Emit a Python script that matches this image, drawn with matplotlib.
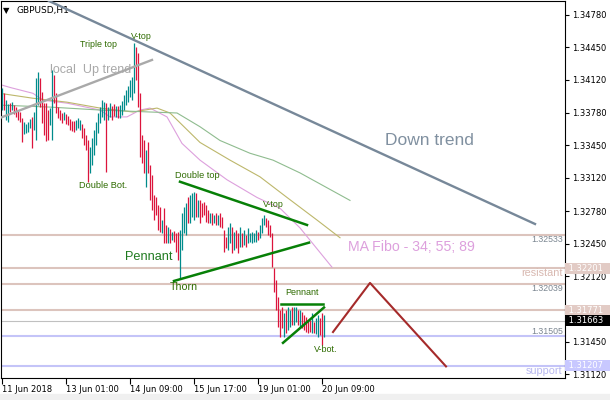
import matplotlib.pyplot as plt
import matplotlib.patches as mpatches
import numpy as np

### DATA (GBPUSD H1, 11 Jun 17:00 - 20 Jun 10:00) ###

high = [
    1.3403, 1.3398, 1.3391, 1.3387, 1.3388, 1.3389, 1.3386, 1.3384, 1.3381, 1.3379,
    1.3373, 1.3369, 1.3367, 1.3369, 1.3372, 1.3374, 1.3379, 1.3414, 1.3420, 1.3414,
    1.3399, 1.3388, 1.3388, 1.3381, 1.3383, 1.3422, 1.3417, 1.3398, 1.3384, 1.3381,
    1.3378, 1.3379, 1.3377, 1.3375, 1.3372, 1.3370, 1.3370, 1.3371, 1.3373, 1.3371,
    1.3367, 1.3363, 1.3356, 1.3350, 1.3343, 1.3353, 1.3361, 1.3369, 1.3378, 1.3384,
    1.3391, 1.3389, 1.3388, 1.3384, 1.3388, 1.3385, 1.3387, 1.3385, 1.3385, 1.3386,
    1.3390, 1.3396, 1.3401, 1.3405, 1.3412, 1.3415, 1.3449, 1.3445, 1.3439, 1.3398,
    1.3356, 1.3350, 1.3340, 1.3348, 1.3325, 1.3315, 1.3294, 1.3292, 1.3284, 1.3282,
    1.3269, 1.3281, 1.3264, 1.3262, 1.3260, 1.3257, 1.3258, 1.3256, 1.3257, 1.3259,
    1.3276, 1.3282, 1.3286, 1.3292, 1.3294, 1.3297, 1.3298, 1.3297, 1.3289, 1.3289,
    1.3286, 1.3287, 1.3284, 1.3279, 1.3276, 1.3276, 1.3274, 1.3276, 1.3274, 1.3276,
    1.3272, 1.3259, 1.3252, 1.3262, 1.3266, 1.3262, 1.3257, 1.3259, 1.3256, 1.3262,
    1.3256, 1.3259, 1.3254, 1.3261, 1.3256, 1.3257, 1.3256, 1.3259, 1.3257, 1.3264,
    1.3271, 1.3274, 1.3271, 1.3269, 1.3264, 1.3256, 1.3220, 1.3208, 1.3191, 1.3177,
    1.3180, 1.3174, 1.3177, 1.3180, 1.3177, 1.3180, 1.3180, 1.3180, 1.3177, 1.3177,
    1.3175, 1.3172, 1.3170, 1.3167, 1.3167, 1.3174, 1.3165, 1.3169, 1.3172, 1.3169,
    1.3174, 1.3172,
]
low = [
    1.3381, 1.3381, 1.3371, 1.3369, 1.3379, 1.3381, 1.3377, 1.3374, 1.3371, 1.3369,
    1.3348, 1.3357, 1.3358, 1.3359, 1.3363, 1.3342, 1.3361, 1.3350, 1.3386, 1.3384,
    1.3368, 1.3356, 1.3349, 1.3350, 1.3366, 1.3350, 1.3388, 1.3378, 1.3373, 1.3371,
    1.3368, 1.3371, 1.3367, 1.3366, 1.3361, 1.3360, 1.3359, 1.3361, 1.3363, 1.3361,
    1.3353, 1.3345, 1.3340, 1.3308, 1.3317, 1.3325, 1.3335, 1.3345, 1.3358, 1.3368,
    1.3374, 1.3371, 1.3318, 1.3371, 1.3374, 1.3371, 1.3375, 1.3374, 1.3373, 1.3373,
    1.3376, 1.3381, 1.3386, 1.3389, 1.3394, 1.3391, 1.3398, 1.3412, 1.3384, 1.3333,
    1.3327, 1.3317, 1.3303, 1.3317, 1.3289, 1.3279, 1.3269, 1.3274, 1.3259, 1.3257,
    1.3256, 1.3246, 1.3246, 1.3246, 1.3246, 1.3249, 1.3247, 1.3236, 1.3228, 1.3210,
    1.3239, 1.3256, 1.3254, 1.3266, 1.3266, 1.3272, 1.3269, 1.3272, 1.3272, 1.3266,
    1.3272, 1.3274, 1.3267, 1.3266, 1.3266, 1.3264, 1.3266, 1.3264, 1.3264, 1.3262,
    1.3261, 1.3236, 1.3241, 1.3239, 1.3246, 1.3235, 1.3239, 1.3241, 1.3235, 1.3242,
    1.3242, 1.3244, 1.3242, 1.3246, 1.3247, 1.3246, 1.3247, 1.3247, 1.3249, 1.3251,
    1.3256, 1.3264, 1.3262, 1.3254, 1.3252, 1.3221, 1.3196, 1.3177, 1.3160, 1.3150,
    1.3159, 1.3150, 1.3154, 1.3157, 1.3160, 1.3162, 1.3162, 1.3165, 1.3162, 1.3160,
    1.3159, 1.3157, 1.3155, 1.3154, 1.3155, 1.3154, 1.3154, 1.3153, 1.3150, 1.3152,
    1.3142, 1.3150,
]
# 1 = bull bar, 0 = bear bar
up = [
    1, 0, 1, 1, 0, 1, 0, 0, 0, 0,
    0, 1, 1, 1, 1, 0, 1, 1, 1, 0,
    0, 0, 0, 0, 1, 1, 0, 0, 0, 0,
    0, 1, 0, 0, 0, 0, 0, 1, 1, 1,
    0, 0, 0, 0, 1, 1, 1, 1, 1, 1,
    1, 1, 0, 1, 1, 0, 0, 1, 0, 1,
    1, 1, 1, 1, 1, 1, 1, 0, 0, 0,
    0, 0, 1, 0, 0, 0, 0, 0, 0, 0,
    1, 0, 0, 1, 0, 1, 0, 0, 0, 1,
    1, 1, 1, 0, 1, 1, 1, 0, 1, 0,
    0, 0, 0, 0, 1, 0, 1, 0, 1, 0,
    0, 0, 0, 1, 1, 0, 1, 0, 0, 1,
    0, 1, 0, 1, 1, 1, 1, 1, 0, 1,
    1, 1, 0, 0, 0, 0, 0, 0, 0, 0,
    0, 1, 0, 1, 1, 0, 1, 1, 0, 1,
    0, 0, 0, 0, 0, 1, 0, 1, 1, 0,
    0, 1,
]

time_ticks = [0, 32, 64, 96, 128, 160]
time_labels = ['11 Jun 2018', '13 Jun 01:00', '14 Jun 09:00',
               '15 Jun 17:00', '19 Jun 01:00', '20 Jun 09:00']
price_ticks = [1.34780, 1.34450, 1.34120, 1.33780, 1.33450, 1.33120,
               1.32780, 1.32450, 1.32120, 1.31450, 1.31120]

# MA Fibo 34 / 55 / 89 (shifted forward), sampled along the curves
ma34_x = [-1, 4, 15.5, 20.5, 32.5, 49, 54, 62.5, 69, 74, 82.5, 90, 99, 112.5, 127.5, 139, 149, 165]
ma34_y = [1.3407, 1.3404, 1.3398, 1.3391, 1.3388, 1.3381, 1.3374, 1.3374, 1.3381, 1.3383,
          1.3374, 1.3347, 1.3330, 1.3310, 1.3292, 1.3281, 1.3261, 1.3221]
ma55_x = [-1, 15.5, 32.5, 49, 65.5, 77.5, 84, 92.5, 99, 114, 129, 142.5, 157.5, 169]
ma55_y = [1.3398, 1.3393, 1.3389, 1.3383, 1.3379, 1.3383, 1.3378, 1.3361, 1.3348, 1.3330,
          1.3313, 1.3292, 1.3269, 1.3251]
ma89_x = [-1, 24, 49, 74, 87.5, 99, 109, 124, 135.5, 149, 174]
ma89_y = [1.3386, 1.3384, 1.3381, 1.3379, 1.3378, 1.3364, 1.3350, 1.3337, 1.3330, 1.3317, 1.3289]

# horizontal levels
res_levels = [1.32533, 1.32201, 1.32039, 1.31771]
sup_levels = [1.31505, 1.31207]
bid = 1.31663

# drawn objects
down_trend = ([23.5, 266.5], [1.3492, 1.3265])
local_up = ([-1, 75], [1.3373, 1.3432])
pennant_top = ([89, 152.5], [1.3308, 1.3264])
pennant_bot = ([86, 153.5], [1.3207, 1.3246])
small_top = ([139.5, 160.5], [1.3184, 1.3184])
small_bot = ([140.5, 161], [1.3144, 1.3180])
zigzag = ([165.5, 184, 222], [1.3155, 1.3205, 1.3120])

### PLOT ###
UP_C = '#008b8b'
DN_C = '#dc143c'
ROSY = '#dcc4bd'
BLUE = '#c4c4f8'
ANN = '#2e6b00'
ARIAL = 'Liberation Sans'

fig = plt.figure(figsize=(6.1, 4.0), dpi=100)
fig.patches.append(mpatches.Rectangle((0, 0), 1, 6 / 400, transform=fig.transFigure,
                                      color='#f0f0f0', zorder=0))
ax = fig.add_axes([1 / 610, 22 / 400, 564 / 610, 377 / 400])

idx = np.arange(len(high))
cols = [UP_C if u else DN_C for u in up]
ax.vlines(idx, low, high, colors=cols, lw=0.9, zorder=3)

for lv in res_levels:
    ax.axhline(lv, color=ROSY, lw=1.5, zorder=1)
for lv in sup_levels:
    ax.axhline(lv, color=BLUE, lw=1.5, zorder=1)
ax.axhline(bid, color='#c0c0c0', lw=0.8, zorder=1)

ax.plot(ma34_x, ma34_y, color='#dda0dd', lw=0.8, zorder=2)
ax.plot(ma55_x, ma55_y, color='#bdb76b', lw=0.8, zorder=2)
ax.plot(ma89_x, ma89_y, color='#8fbc8f', lw=0.8, zorder=2)

ax.plot(*down_trend, color='#778899', lw=1.7, zorder=4)
ax.plot(*local_up, color='#a9a9a9', lw=1.7, zorder=4)
for ln in (pennant_top, pennant_bot, small_top, small_bot):
    ax.plot(*ln, color='#078007', lw=1.8, zorder=4)
ax.plot(*zigzag, color='#a52a2a', lw=1.5, zorder=4)

# annotations
ax.text(39, 1.3448, 'Triple top', color=ANN, fontsize=6.4, family=ARIAL, va='center')
ax.text(64.5, 1.3456, 'V-top', color=ANN, fontsize=6.4, family=ARIAL, va='center')
ax.text(38.5, 1.3304, 'Double Bot.', color=ANN, fontsize=6.6, family=ARIAL, va='center')
ax.text(86.5, 1.3314, 'Double top', color=ANN, fontsize=6.6, family=ARIAL, va='center')
ax.text(130.5, 1.3285, 'V-top', color=ANN, fontsize=6.4, family=ARIAL, va='center')
ax.text(61.5, 1.3231, 'Pennant', color='#1f7a1f', fontsize=9.2, family=ARIAL, va='center')
ax.text(84, 1.3201, 'Thorn', color=ANN, fontsize=7.7, family=ARIAL, va='center')
ax.text(141.5, 1.3195, 'Pennant', color=ANN, fontsize=6.5, family=ARIAL, va='center')
ax.text(156, 1.3137, 'V-bot.', color=ANN, fontsize=6.5, family=ARIAL, va='center')
ax.text(24, 1.3422, 'local  Up trend', color='#a9a9a9', fontsize=9, family=ARIAL, va='center')
ax.text(191.5, 1.3350, 'Down trend', color='#8090a0', fontsize=12.5, family=ARIAL, va='center')
ax.text(173, 1.3242, 'MA Fibo - 34; 55; 89', color='#dda0dd', fontsize=10.2, family=ARIAL,
        va='center')

# level captions at the right edge
yt = ax.get_yaxis_transform()
ax.text(0.996, 1.32533, '1.32533', transform=yt, ha='right', va='top', color='#7a8590',
        fontsize=6.3, family=ARIAL)
ax.text(0.996, 1.32201, 'resistant', transform=yt, ha='right', va='top', color='#d8b8b0',
        fontsize=7.8, family=ARIAL)
ax.text(0.996, 1.32039, '1.32039', transform=yt, ha='right', va='top', color='#7a8590',
        fontsize=6.3, family=ARIAL)
ax.text(0.996, 1.31505, '1.31505', transform=yt, ha='right', va='bottom', color='#7a8590',
        fontsize=6.3, family=ARIAL)
ax.text(0.996, 1.31207, 'support', transform=yt, ha='right', va='top', color='#b8b8f0',
        fontsize=7.8, family=ARIAL)

# axes styling
ax.set_xlim(-0.5, 281.5)
ax.set_ylim(1.31082, 1.34920)
for s in ax.spines.values():
    s.set_color('black')
    s.set_linewidth(0.8)
ax.yaxis.tick_right()
ax.set_yticks(price_ticks)
ax.set_yticklabels([f'{p:.5f}' for p in price_ticks])
ax.set_xticks(time_ticks)
ax.set_xticklabels(time_labels, ha='left')
ax.tick_params(axis='y', length=3, width=0.8, labelsize=6, pad=2)
ax.tick_params(axis='x', length=4, width=0.8, labelsize=6, pad=1)

# price tags on the scale
tags = [(1.32201, '#e2cbc5'), (1.31771, '#e2cbc5'), (bid, 'black'), (1.31207, '#c8c8ff')]
for p, c in tags:
    ax.text(1.0015, p, f' {p:.5f}   ', transform=yt, ha='left', va='center', color='white',
            fontsize=6, bbox=dict(boxstyle='square,pad=0.12', fc=c, ec='none'), clip_on=False,
            zorder=6)

ax.text(0.004, 0.975, '\u25bc', transform=ax.transAxes, fontsize=6, va='center')
ax.text(0.027, 0.975, 'GBPUSD,H1', transform=ax.transAxes, fontsize=6.5, va='center')

fig.savefig('out.png', dpi=100)
